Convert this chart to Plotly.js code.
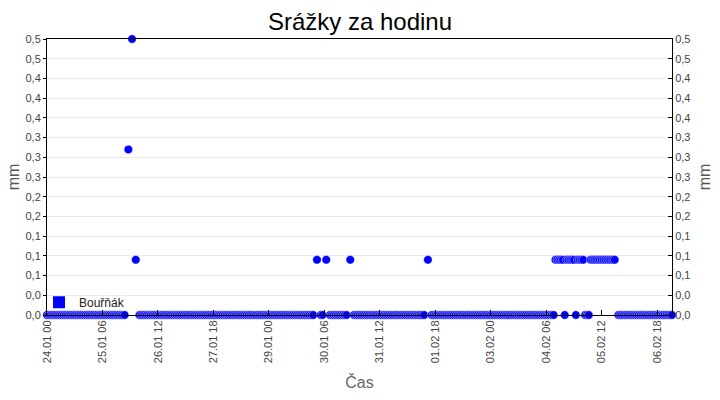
<!DOCTYPE html>
<html>
<head>
<meta charset="utf-8">
<script src="https://cdn.plot.ly/plotly-3.0.1.min.js"></script>
<style>html,body{margin:0;padding:0;background:#fff}#chart{width:720px;height:400px}</style>
</head>
<body>
<div id="chart"></div>
<script>
// Hourly precipitation, station "Bouřňák", starting 24.01 00:00, one row per day
var seriesName = 'Bouřňák';
var startTime = '2021-01-24 00:00';
var day24_01 = [0,0,0,0,0,0,0,0,0,0,0,0,0,0,0,0,0,0,0,0,0,0,0,0];
var day25_01 = [0,0,0,0,0,0,0,0,0,0,0,0,0,0,0,0,0,0,0,null,0.3,null,0.5,null];
var day26_01 = [0.1,null,0,0,0,0,0,0,0,0,0,0,0,0,0,0,0,0,0,0,0,0,0,0];
var day27_01 = [0,0,0,0,0,0,0,0,0,0,0,0,0,0,0,0,0,0,0,0,0,0,0,0];
var day28_01 = [0,0,0,0,0,0,0,0,0,0,0,0,0,0,0,0,0,0,0,0,0,0,0,0];
var day29_01 = [0,0,0,0,0,0,0,0,0,0,0,0,0,0,0,0,0,0,0,0,0,0,0,0];
var day30_01 = [0,null,0.1,null,0,0,null,0.1,null,0,0,0,0,0,0,0,0,0,0,null,0.1,null,0,0];
var day31_01 = [0,0,0,0,0,0,0,0,0,0,0,0,0,0,0,0,0,0,0,0,0,0,0,0];
var day01_02 = [0,0,0,0,0,0,0,0,0,0,0,0,0,null,0.1,null,0,0,0,0,0,0,0,0];
var day02_02 = [0,0,0,0,0,0,0,0,0,0,0,0,0,0,0,0,0,0,0,0,0,0,0,0];
var day03_02 = [0,0,0,0,0,0,0,0,0,0,0,0,0,0,0,0,0,0,0,0,0,0,0,0];
var day04_02 = [0,0,0,0,0,0,0,0,0,0,0,0.1,0.1,0.1,0.1,0.1,0,0.1,0.1,0.1,0.1,0.1,0,0.1];
var day05_02 = [0.1,0.1,0.1,0,0,0,0.1,0.1,0.1,0.1,0.1,0.1,0.1,0.1,0.1,0.1,0.1,0.1,0.1,0.1,null,0,0,0];
var day06_02 = [0,0,0,0,0,0,0,0,0,0,0,0,0,0,0,0,0,0,0,0,0,0,0,0];
var day07_02 = [0,0,0];
var yTickLabels = ['0,0','0,0','0,1','0,1','0,1','0,2','0,2','0,3','0,3','0,3','0,4','0,4','0,4','0,5','0,5'];
var yMax = 0.5;

var values = [].concat(day24_01, day25_01, day26_01, day27_01, day28_01, day29_01, day30_01,
  day31_01, day01_02, day02_02, day03_02, day04_02, day05_02, day06_02, day07_02);

var t0 = new Date(startTime.replace(' ', 'T') + ':00Z').getTime();
function fmt(ms){ var d = new Date(ms); return d.toISOString().slice(0,16).replace('T',' '); }
var times = values.map(function(v, i){ return fmt(t0 + i * 3600000); });

var tickVals = yTickLabels.map(function(s, i){ return i * yMax / (yTickLabels.length - 1); });

var font = 'Liberation Sans, Arial, sans-serif';

var traces = [
  {
    x: times, y: values, type: 'scatter', mode: 'markers', name: seriesName,
    showlegend: false, cliponaxis: false,
    marker: { color: '#0000ff', size: 8.5, line: { color: 'rgba(255,255,255,0.7)', width: 0.6 } },
    hoverinfo: 'x+y'
  },
  {
    x: [times[0]], y: [null], type: 'scatter', mode: 'markers', name: seriesName,
    yaxis: 'y2', showlegend: true,
    marker: { color: '#0000ff', size: 12, symbol: 'square' }
  }
];

var layout = {
  width: 720, height: 400,
  margin: { l: 47, r: 48, t: 39, b: 85, pad: 0 },
  paper_bgcolor: '#ffffff', plot_bgcolor: '#ffffff',
  separators: ', ',
  font: { family: font, size: 11, color: '#333' },
  title: { text: 'Srážky za hodinu', font: { family: font, size: 24, color: '#000' },
           x: 0.5, xanchor: 'center', y: 0.945, yanchor: 'middle', yref: 'container' },
  showlegend: true,
  legend: { x: -0.0128, y: -0.006, xanchor: 'left', yanchor: 'bottom', bgcolor: 'rgba(255,255,255,0)',
            borderwidth: 0, font: { family: font, size: 12, color: '#222' },
            itemsizing: 'trace', itemwidth: 30, tracegroupgap: 0 },
  xaxis: {
    type: 'date', range: [times[0], times[times.length - 1]],
    tick0: startTime, dtick: 30 * 3600000, tickformat: '%d.%m %H',
    tickangle: -90, ticks: 'inside', ticklen: 5, tickcolor: '#000',
    showline: true, linecolor: '#000', linewidth: 1, mirror: true,
    showgrid: false, zeroline: false,
    tickfont: { family: font, size: 11, color: '#444' },
    title: { text: 'Čas', font: { family: font, size: 16, color: '#666' }, standoff: 14 },
    fixedrange: true
  },
  yaxis: {
    range: [0, yMax], tickmode: 'array', tickvals: tickVals, ticktext: yTickLabels,
    ticks: 'outside', ticklen: 3, tickcolor: '#000',
    showline: true, linecolor: '#000', linewidth: 1,
    showgrid: true, gridcolor: '#ebebeb', gridwidth: 1, zeroline: false,
    tickfont: { family: font, size: 11, color: '#444' },
    title: { text: 'mm', font: { family: font, size: 16, color: '#555' }, standoff: 1 },
    fixedrange: true
  },
  yaxis2: {
    overlaying: 'y', side: 'right', anchor: 'x',
    range: [0, yMax], tickmode: 'array', tickvals: tickVals, ticktext: yTickLabels,
    ticks: 'inside', ticklen: 4, tickcolor: '#000',
    showline: true, linecolor: '#000', linewidth: 1,
    showgrid: false, zeroline: false,
    tickfont: { family: font, size: 11, color: '#444' },
    title: { text: 'mm', font: { family: font, size: 16, color: '#555' }, standoff: 9 },
    fixedrange: true
  }
};

Plotly.newPlot('chart', traces, layout, { displayModeBar: false, staticPlot: true });
</script>
</body>
</html>
